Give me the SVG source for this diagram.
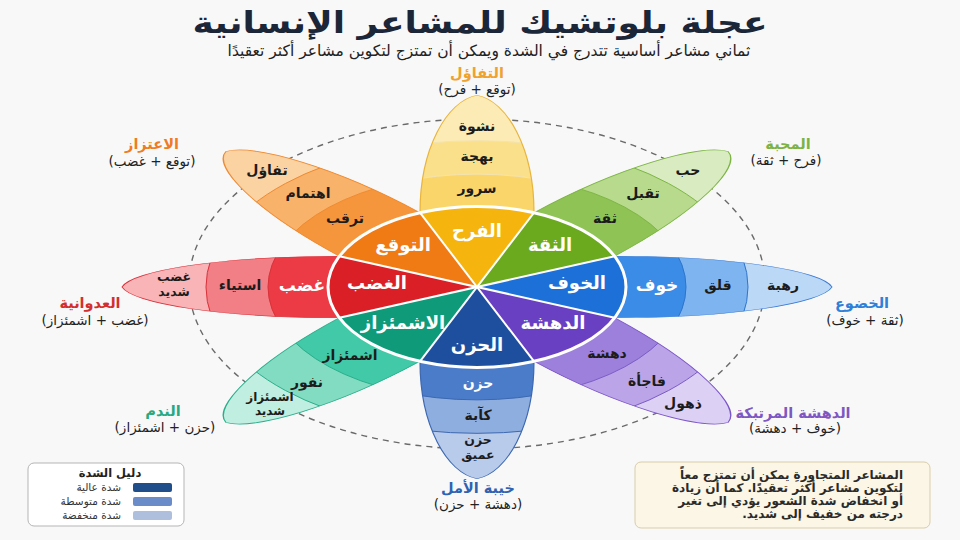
<svg xmlns="http://www.w3.org/2000/svg" width="960" height="540" viewBox="0 0 960 540">
<style>
text{font-family:"DejaVu Sans","Noto Sans",sans-serif;direction:rtl;text-anchor:middle}
.title{font-size:30px;font-weight:bold;fill:#1b2638}
.sub{font-size:15.5px;fill:#222}
.wl{font-size:18px;font-weight:bold;fill:#fff}
.pl{font-size:14px;font-weight:bold;fill:#1c1c1c}
.pw{font-size:17px;font-weight:bold;fill:#fff}
.ol{font-size:14.5px;font-weight:bold}
.op{font-size:13.5px;fill:#222}
.nt{font-size:12px;font-weight:bold;fill:#2a2a2a;text-anchor:start}
.lg{font-size:10.5px;fill:#333;text-anchor:start}
.ns{vector-effect:non-scaling-stroke}
.po{fill:none;stroke-width:1.2;vector-effect:non-scaling-stroke}
.bd{fill:none;stroke-width:1;vector-effect:non-scaling-stroke}
</style>
<defs>
<clipPath id="pc"><path d="M0,0 L137.7,-57 C257,-57 345,-30 355,0 C345,30 257,57 137.7,57 Z"/></clipPath>
<path id="pet" d="M0,0 L137.7,-57 C257,-57 345,-30 355,0 C345,30 257,57 137.7,57 Z"/>
<path id="sec" d="M0,0 L137.66,-57.02 A149,149 0 0 1 137.66,57.02 Z"/>
</defs>
<rect width="960" height="540" fill="#f8f8f9"/>

<text class="title" x="480" y="33" textLength="575" lengthAdjust="spacingAndGlyphs">عجلة بلوتشيك للمشاعر الإنسانية</text>
<text class="sub" x="489" y="56">ثماني مشاعر أساسية تتدرج في الشدة ويمكن أن تمتزج لتكوين مشاعر أكثر تعقيدًا</text>

<ellipse cx="477" cy="284" rx="288" ry="165" fill="none" stroke="#6a6a6a" stroke-width="1.4" stroke-dasharray="6 5"/>

<g transform="translate(477,287) scale(1,0.54)">
  <g id="petal-fear" transform="rotate(0)">
    <g clip-path="url(#pc)"><circle r="360" fill="#bcd8f7"/><circle r="271" fill="#7eb5f0"/><circle r="209" fill="#3b8ce6"/>
    <circle r="271" class="bd" stroke="#2f74c9"/><circle r="209" class="bd" stroke="#2f74c9"/></g>
    <use href="#pet" class="po" stroke="#3a7bd5"/>
  </g>
  <g id="petal-surprise" transform="rotate(45)">
    <g clip-path="url(#pc)"><circle r="360" fill="#dcd0f4"/><circle r="271" fill="#bba4e8"/><circle r="209" fill="#9d80dc"/>
    <circle r="271" class="bd" stroke="#7b5bc6"/><circle r="209" class="bd" stroke="#7b5bc6"/></g>
    <use href="#pet" class="po" stroke="#7b55c8"/>
  </g>
  <g id="petal-sadness" transform="rotate(90)">
    <g clip-path="url(#pc)"><circle r="360" fill="#b8cbeb"/><circle r="271" fill="#8eaee0"/><circle r="209" fill="#4b7cc9"/>
    <circle r="271" class="bd" stroke="#3d68b0"/><circle r="209" class="bd" stroke="#3d68b0"/></g>
    <use href="#pet" class="po" stroke="#3d68b0"/>
  </g>
  <g id="petal-disgust" transform="rotate(135)">
    <g clip-path="url(#pc)"><circle r="360" fill="#c0eee0"/><circle r="271" fill="#82dcc2"/><circle r="209" fill="#42c9a7"/>
    <circle r="271" class="bd" stroke="#2aae8a"/><circle r="209" class="bd" stroke="#2aae8a"/></g>
    <use href="#pet" class="po" stroke="#2aae8a"/>
  </g>
  <g id="petal-anger" transform="rotate(180)">
    <g clip-path="url(#pc)"><circle r="360" fill="#f8b4b7"/><circle r="271" fill="#f27f86"/><circle r="209" fill="#ec3b45"/>
    <circle r="271" class="bd" stroke="#d8323a"/><circle r="209" class="bd" stroke="#d8323a"/></g>
    <use href="#pet" class="po" stroke="#d8323a"/>
  </g>
  <g id="petal-anticipation" transform="rotate(225)">
    <g clip-path="url(#pc)"><circle r="360" fill="#fbd2a2"/><circle r="271" fill="#f8b26a"/><circle r="209" fill="#f6963c"/>
    <circle r="271" class="bd" stroke="#ee8a30"/><circle r="209" class="bd" stroke="#ee8a30"/></g>
    <use href="#pet" class="po" stroke="#ee8a30"/>
  </g>
  <g id="petal-joy" transform="rotate(270)">
    <g clip-path="url(#pc)"><circle r="360" fill="#fcebb4"/><circle r="271" fill="#fbe08b"/><circle r="209" fill="#fad66a"/>
    <circle r="271" class="bd" stroke="#f3e3b0"/><circle r="209" class="bd" stroke="#f3e3b0"/></g>
    <use href="#pet" class="po" stroke="#e8b43c"/>
  </g>
  <g id="petal-trust" transform="rotate(315)">
    <g clip-path="url(#pc)"><circle r="360" fill="#d9ecc1"/><circle r="271" fill="#b7da8c"/><circle r="209" fill="#8fc355"/>
    <circle r="271" class="bd" stroke="#7db544"/><circle r="209" class="bd" stroke="#7db544"/></g>
    <use href="#pet" class="po" stroke="#7db544"/>
  </g>

  <g id="wheel">
    <use href="#sec" transform="rotate(0)" fill="#1d70d7"/>
    <use href="#sec" transform="rotate(45)" fill="#6a40c3"/>
    <use href="#sec" transform="rotate(90)" fill="#1e4f9f"/>
    <use href="#sec" transform="rotate(135)" fill="#0f9b7a"/>
    <use href="#sec" transform="rotate(180)" fill="#db1f27"/>
    <use href="#sec" transform="rotate(225)" fill="#f07b14"/>
    <use href="#sec" transform="rotate(270)" fill="#f5b50e"/>
    <use href="#sec" transform="rotate(315)" fill="#6baa1f"/>
    <g stroke="#fff" stroke-width="2">
      <line class="ns" x1="-137.66" y1="-57.02" x2="137.66" y2="57.02"/>
      <line class="ns" x1="-137.66" y1="57.02" x2="137.66" y2="-57.02"/>
      <line class="ns" x1="-57.02" y1="-137.66" x2="57.02" y2="137.66"/>
      <line class="ns" x1="-57.02" y1="137.66" x2="57.02" y2="-137.66"/>
    </g>
    <circle r="149" fill="none" stroke="#fff" stroke-width="3" class="ns"/>
  </g>
</g>

<g id="wheel-labels">
  <text class="wl" x="477" y="237">الفرح</text>
  <text class="wl" x="550" y="251">الثقة</text>
  <text class="wl" x="577" y="289">الخوف</text>
  <text class="wl" x="553" y="329">الدهشة</text>
  <text class="wl" x="477" y="351">الحزن</text>
  <text class="wl" x="403" y="329">الاشمئزاز</text>
  <text class="wl" x="377" y="289">الغضب</text>
  <text class="wl" x="403" y="251">التوقع</text>
</g>

<g id="petal-labels">
  <text class="pl" x="477" y="131">نشوة</text>
  <text class="pl" x="477" y="161">بهجة</text>
  <text class="pl" x="477" y="193">سرور</text>
  <text class="pl" x="688" y="175">حب</text>
  <text class="pl" x="643" y="198">تقبل</text>
  <text class="pl" x="605" y="223">ثقة</text>
  <text class="pw" x="657" y="291">خوف</text>
  <text class="pl" x="718" y="290">قلق</text>
  <text class="pl" x="783" y="290">رهبة</text>
  <text class="pl" x="607" y="358">دهشة</text>
  <text class="pl" x="647" y="386">فاجأة</text>
  <text class="pl" x="683" y="408">ذهول</text>
  <text class="pw" x="478" y="388" style="font-size:14px">حزن</text>
  <text class="pl" x="478" y="420">كآبة</text>
  <text class="pl" x="478" y="444" style="font-size:12.5px">حزن</text>
  <text class="pl" x="478" y="459" style="font-size:12.5px">عميق</text>
  <text class="pl" x="350" y="360">اشمئزاز</text>
  <text class="pl" x="307" y="387">نفور</text>
  <text class="pl" x="270" y="401" style="font-size:12px">اشمئزاز</text>
  <text class="pl" x="270" y="415" style="font-size:12px">شديد</text>
  <text class="pw" x="302" y="291">غضب</text>
  <text class="pl" x="240" y="290">استياء</text>
  <text class="pl" x="174" y="281" style="font-size:12.5px">غضب</text>
  <text class="pl" x="174" y="296" style="font-size:12.5px">شديد</text>
  <text class="pl" x="267" y="175">تفاؤل</text>
  <text class="pl" x="308" y="198">اهتمام</text>
  <text class="pl" x="345" y="223">ترقب</text>
</g>

<g id="outer-labels">
  <text class="ol" x="477" y="78" fill="#f0a22e">التفاؤل</text>
  <text class="op" x="477" y="94">(توقع + فرح)</text>
  <text class="ol" x="788" y="149" fill="#7cb342">المحبة</text>
  <text class="op" x="786" y="165">(فرح + ثقة)</text>
  <text class="ol" x="862" y="308" fill="#2e80d8">الخضوع</text>
  <text class="op" x="865" y="325">(ثقة + خوف)</text>
  <text class="ol" x="793" y="418" fill="#7e57c2">الدهشة المرتبكة</text>
  <text class="op" x="795" y="433">(خوف + دهشة)</text>
  <text class="ol" x="478" y="493" fill="#2f62b0">خيبة الأمل</text>
  <text class="op" x="478" y="509">(دهشة + حزن)</text>
  <text class="ol" x="163" y="416" fill="#26a984">الندم</text>
  <text class="op" x="165" y="432">(حزن + اشمئزاز)</text>
  <text class="ol" x="90" y="308" fill="#d32f2f">العدوانية</text>
  <text class="op" x="95" y="325">(غضب + اشمئزاز)</text>
  <text class="ol" x="152" y="149" fill="#ef7b22">الاعتزاز</text>
  <text class="op" x="152" y="166">(توقع + غضب)</text>
</g>

<g id="legend">
  <rect x="28" y="463" width="156" height="63" rx="6" fill="#fff" stroke="#b5b5b5" stroke-width="1"/>
  <text x="110" y="477" style="font-size:11.5px;font-weight:bold;fill:#222">دليل الشدة</text>
  <text class="lg" x="121" y="491">شدة عالية</text>
  <text class="lg" x="121" y="505">شدة متوسطة</text>
  <text class="lg" x="121" y="519">شدة منخفضة</text>
  <rect x="133" y="483" width="39" height="9" rx="2" fill="#1f4e8a"/>
  <rect x="133" y="497" width="39" height="9" rx="2" fill="#6a8cc8"/>
  <rect x="133" y="511" width="39" height="9" rx="2" fill="#aebedd"/>
</g>

<g id="note">
  <rect x="635" y="462" width="295" height="66" rx="6" fill="#fbf6e6" stroke="#d9cda8" stroke-width="1"/>
  <text class="nt" x="903" y="479">المشاعر المتجاورةِ يمكن أن تمتزج معاً</text>
  <text class="nt" x="903" y="492">لتكوين مشاعر أكثر تعقيدًا. كما أن زيادة</text>
  <text class="nt" x="903" y="505">أو انخفاض شدة الشعور يؤدي إلى تغير</text>
  <text class="nt" x="903" y="518">درجته من خفيف إلى شديد.</text>
</g>
</svg>
